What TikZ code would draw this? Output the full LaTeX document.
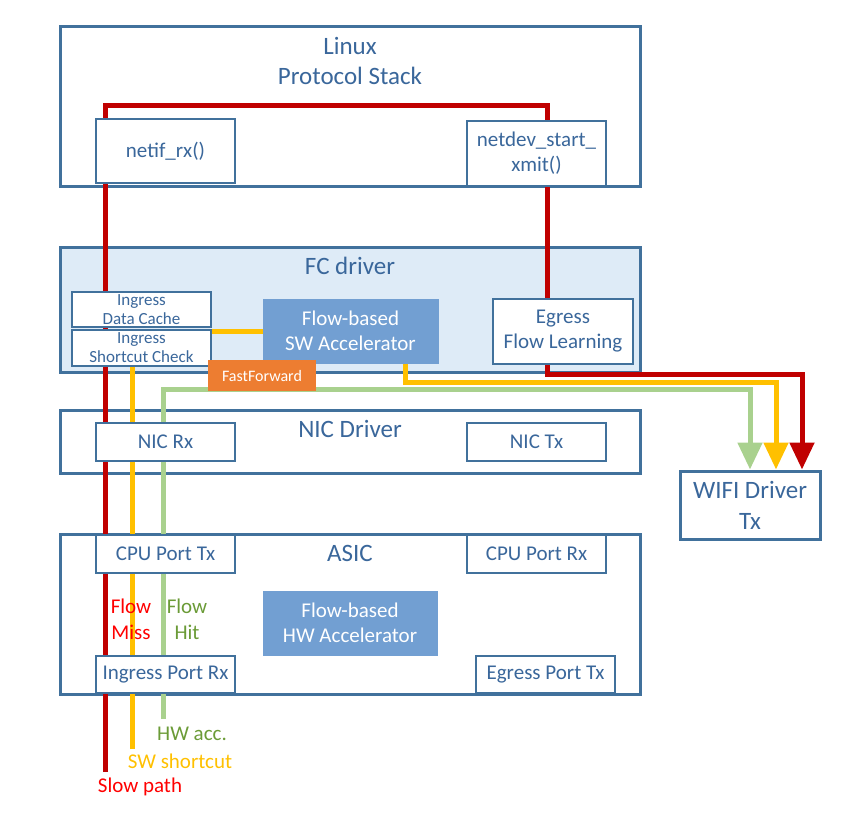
\documentclass[tikz,border=0pt]{standalone}
\usepackage{fontspec}
\setmainfont{Carlito}
\usetikzlibrary{arrows.meta}
\definecolor{bord}{HTML}{41719C}
\definecolor{boxtxt}{HTML}{3A679B}
\definecolor{fcfill}{HTML}{DEEBF7}
\definecolor{accblue}{HTML}{729FD2}
\definecolor{ffill}{HTML}{ED7D31}
\definecolor{slowred}{HTML}{C00000}
\definecolor{swyellow}{HTML}{FFC000}
\definecolor{hwgreen}{HTML}{A9D18E}
\definecolor{redtxt}{HTML}{FF0000}
\definecolor{greentxt}{HTML}{6B9B37}
\pgfdeclarelayer{back}
\pgfdeclarelayer{paths}
\pgfsetlayers{back,paths,main}

\begin{document}
\begin{tikzpicture}[x=1pt, y=-1pt,
  layerbox/.style={draw=bord, line width=3pt, fill=white, minimum width=580pt, inner sep=0pt},
  blk/.style={draw=bord, line width=1.3pt, fill=white, text=boxtxt, minimum width=139pt, inner sep=0pt, align=center, font=\fontsize{21}{25}\selectfont},
  small/.style={blk, font=\fontsize{17}{19}\selectfont},
  acc/.style={fill=accblue, draw=accblue, text=white, minimum width=175pt, minimum height=64pt, inner sep=0pt, align=center, font=\fontsize{21}{25}\selectfont},
  title/.style={text=boxtxt, align=center, font=\fontsize{25}{30}\selectfont},
  way/.style={line width=5pt},
  tip/.style={-{Triangle[width=24pt,length=27pt]}},
  lbl/.style={align=center, font=\fontsize{21}{26}\selectfont}]
  \useasboundingbox (0,0) rectangle (848,820);
  % layers
  \begin{pgfonlayer}{back}
    \node[layerbox, minimum height=160pt] (linux) at (350,106) {};
    \node[layerbox, minimum height=125pt, fill=fcfill] (fc) at (350,309.5) {};
    \node[layerbox, minimum height=63pt] (nic) at (350,441.5) {};
    \node[layerbox, minimum height=160pt] (asic) at (350,614) {};
  \end{pgfonlayer}
  \node[title] (linuxT) at (350,61) {Linux\\Protocol Stack};
  \node[title] (fcT) at (350,266) {FC driver};
  \node[title] (nicT) at (350,429) {NIC Driver};
  \node[title] (asicT) at (350,553) {ASIC};
  % linux
  \node[blk, minimum height=64pt] (netif) at (165.5,151) {netif\_rx()};
  \node[blk, minimum height=65pt] (netdev) at (536.5,153.5) {netdev\_start\_\\xmit()};
  % fc driver
  \node[small, minimum height=35pt] (cache) at (141.5,309.5) {Ingress\\Data Cache};
  \node[small, minimum height=36pt] (check) at (141.5,348) {Ingress\\Shortcut Check};
  \node[acc] (swacc) at (350.5,331) {Flow-based\\SW Accelerator};
  \node[blk, minimum width=140pt, minimum height=65pt] (egress) at (563,331.5) {Egress\\Flow Learning};
  % nic driver
  \node[blk, minimum height=38pt] (nicrx) at (165.5,442) {NIC Rx};
  \node[blk, minimum height=38pt] (nictx) at (536.5,442) {NIC Tx};
  % asic
  \node[blk, minimum height=38pt] (cputx) at (165.5,554) {CPU Port Tx};
  \node[blk, minimum height=38pt] (cpurx) at (536.5,554) {CPU Port Rx};
  \node[acc, minimum width=174pt] (hwacc) at (350,623) {Flow-based\\HW Accelerator};
  \node[blk, minimum height=37pt] (ingrx) at (165.5,674.5) {Ingress Port Rx};
  \node[blk, minimum height=37pt] (egtx) at (545.5,674.5) {Egress Port Tx};
  % wifi
  \node[blk, line width=3pt, minimum width=140pt, minimum height=68pt, font=\fontsize{25}{31}\selectfont] (wifi) at (750,505) {WIFI Driver\\Tx};
  % labels
  \node[lbl, text=redtxt] (miss) at (131,619) {Flow\\Miss};
  \node[lbl, text=greentxt] (hit) at (187,619) {Flow\\Hit};
  \node[lbl, text=greentxt] (hwT) at (192,734) {HW acc.};
  \node[lbl, text=swyellow] (swT) at (180,761) {SW shortcut};
  \node[lbl, text=redtxt] (slowT) at (140,787) {Slow path};
  % paths
  \coordinate (slow) at (105,772);
  \coordinate (sw) at (132,749);
  \coordinate (hw) at (163,719);
  \coordinate (rloop) at (547,105);
  \begin{pgfonlayer}{paths}
    \draw[way, slowred, tip] (slow) |- (rloop) -- ++(0,269) -| ([xshift=52]wifi.north);
    \draw[way, swyellow] (sw) |- (swacc.west);
    \draw[way, swyellow, tip] ([xshift=55]swacc.south) -- ++(0,19) -| ([xshift=26]wifi.north);
    \draw[way, hwgreen, tip] (hw) -- ++(0,-330) -| (wifi.north);
  \end{pgfonlayer}
  \node[fill=ffill, text=white, minimum width=108pt, minimum height=31pt, inner sep=0pt, font=\fontsize{16}{19}\selectfont] (ff) at (262,375.5) {FastForward};
\end{tikzpicture}
\end{document}
